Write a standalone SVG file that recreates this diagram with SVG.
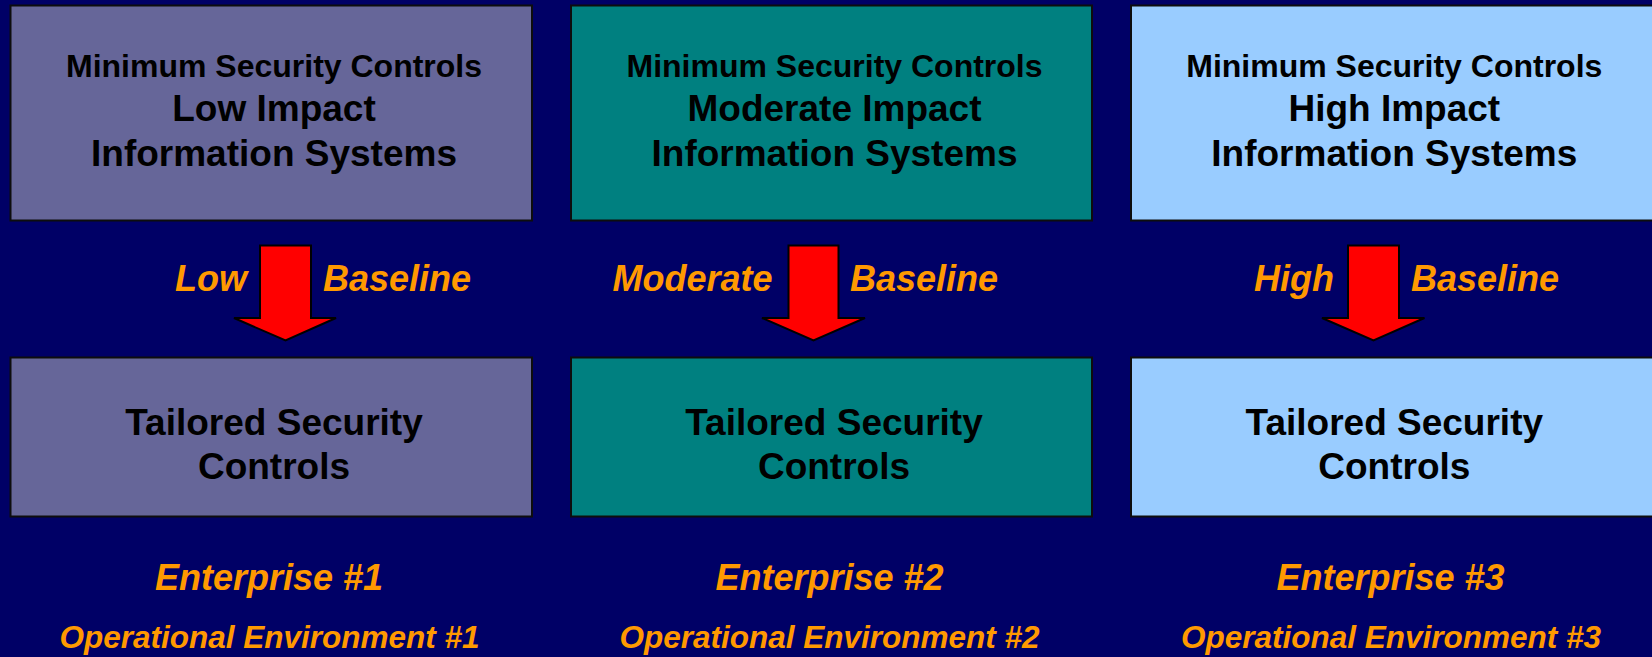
<svg xmlns="http://www.w3.org/2000/svg" width="1652" height="657" viewBox="0 0 1652 657">
  <style>
    .box { stroke: #0d0d0d; stroke-width: 2; }
    .low { fill: #666699; }
    .mod { fill: #008080; }
    .high { fill: #99CCFF; }
    .dark { font-family: "Liberation Sans", Arial, sans-serif; font-weight: bold; fill: #000000; text-anchor: middle; }
    .t1 { font-size: 32px; }
    .t2 { font-size: 37px; }
    .lbl { font-family: "Liberation Sans", Arial, sans-serif; font-weight: bold; font-style: italic; fill: #FF9900; text-anchor: middle; }
    .l36 { font-size: 36px; }
    .l31 { font-size: 31.5px; }
    .arrow { fill: #FF0000; stroke: #000000; stroke-width: 2; stroke-linejoin: miter; }
  </style>

  <rect x="0" y="0" width="1652" height="657" fill="#000066"/>

  <!-- Low impact column -->
  <g id="low-minimum">
    <rect class="box low" x="10.5" y="5.5" width="521.5" height="215"/>
    <text class="dark t1" x="274" y="77">Minimum Security Controls</text>
    <text class="dark t2" x="274" y="121">Low Impact</text>
    <text class="dark t2" x="274" y="166">Information Systems</text>
  </g>
  <g id="low-tailored">
    <rect class="box low" x="10.5" y="357.5" width="521.5" height="159"/>
    <text class="dark t2" x="274" y="435">Tailored Security</text>
    <text class="dark t2" x="274" y="479">Controls</text>
  </g>
  <g id="low-enterprise">
    <text class="lbl l36" x="269" y="590">Enterprise #1</text>
    <text class="lbl l31" x="269.5" y="648">Operational Environment #1</text>
  </g>

  <!-- Moderate impact column -->
  <g id="mod-minimum">
    <rect class="box mod" x="571" y="5.5" width="521" height="215"/>
    <text class="dark t1" x="834.5" y="77">Minimum Security Controls</text>
    <text class="dark t2" x="834.5" y="121">Moderate Impact</text>
    <text class="dark t2" x="834.5" y="166">Information Systems</text>
  </g>
  <g id="mod-tailored">
    <rect class="box mod" x="571" y="357.5" width="521" height="159"/>
    <text class="dark t2" x="834" y="435">Tailored Security</text>
    <text class="dark t2" x="834" y="479">Controls</text>
  </g>
  <g id="mod-enterprise">
    <text class="lbl l36" x="829.5" y="590">Enterprise #2</text>
    <text class="lbl l31" x="829.5" y="648">Operational Environment #2</text>
  </g>

  <!-- High impact column -->
  <g id="high-minimum">
    <rect class="box high" x="1131" y="5.5" width="530" height="215"/>
    <text class="dark t1" x="1394.3" y="77">Minimum Security Controls</text>
    <text class="dark t2" x="1394.3" y="121">High Impact</text>
    <text class="dark t2" x="1394.3" y="166">Information Systems</text>
  </g>
  <g id="high-tailored">
    <rect class="box high" x="1131" y="357.5" width="530" height="159"/>
    <text class="dark t2" x="1394.3" y="435">Tailored Security</text>
    <text class="dark t2" x="1394.3" y="479">Controls</text>
  </g>
  <g id="high-enterprise">
    <text class="lbl l36" x="1390.5" y="590">Enterprise #3</text>
    <text class="lbl l31" x="1391" y="648">Operational Environment #3</text>
  </g>

  <!-- Baseline arrows from minimum controls to tailored controls -->
  <g id="connectors">
    <path class="arrow" d="M260,245.5 H311 V318 H336 L285.5,340.5 L234,318 H260 Z"/>
    <text class="lbl l36" x="211" y="291">Low</text>
    <text class="lbl l36" x="397" y="291">Baseline</text>

    <path class="arrow" d="M788.5,245.5 H838.5 V318 H865 L813.5,340.5 L762,318 H788.5 Z"/>
    <text class="lbl l36" x="692.5" y="291">Moderate</text>
    <text class="lbl l36" x="924" y="291">Baseline</text>

    <path class="arrow" d="M1348,245.5 H1399 V318 H1424.5 L1373.5,340.5 L1322,318 H1348 Z"/>
    <text class="lbl l36" x="1294" y="291">High</text>
    <text class="lbl l36" x="1485" y="291">Baseline</text>
  </g>
</svg>
